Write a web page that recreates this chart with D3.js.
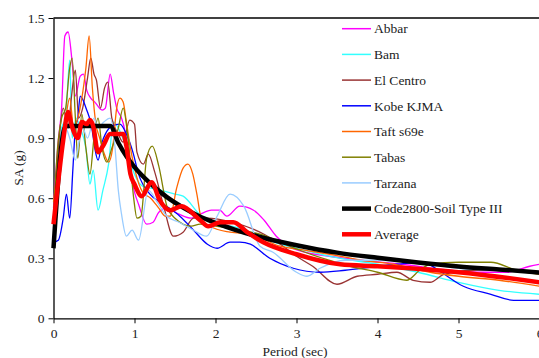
<!DOCTYPE html>
<html>
<head>
<meta charset="utf-8">
<script src="https://cdn.jsdelivr.net/npm/d3@7"></script>
<style>
  html, body { margin: 0; padding: 0; background: #fff; }
  svg { display: block; }
  svg text { font-family: 'Liberation Serif', 'Times New Roman', 'DejaVu Serif', serif; }
</style>
</head>
<body>
<div id="chart"></div>
<script>
/* ── Data (period in sec, SA in g) ─────────────────────────────────────── */
const abbar = [[0,0.55],[0.06,0.89],[0.1,1.05],[0.14,1.41],[0.18,1.43],[0.23,1.28],[0.27,1.11],[0.33,1.21],[0.37,1.22],[0.41,1.14],[0.46,1.1],[0.51,1.08],[0.6,1.04],[0.64,1.05],[0.7,1.22],[0.74,1.13],[0.78,1.05],[0.84,1.0],[0.88,0.94],[0.94,0.75],[1.0,0.63],[1.05,0.57],[1.15,0.47],[1.23,0.48],[1.3,0.53],[1.4,0.55],[1.55,0.52],[1.7,0.5],[1.81,0.52],[1.95,0.54],[2.05,0.54],[2.14,0.51],[2.3,0.56],[2.47,0.54],[2.6,0.49],[2.75,0.41],[2.9,0.36],[3.1,0.33],[3.4,0.31],[3.8,0.29],[4.3,0.27],[4.9,0.24],[5.3,0.23],[5.6,0.23],[5.88,0.26],[6,0.27]];
const bam = [[0,0.5],[0.05,0.7],[0.1,0.95],[0.15,1.0],[0.2,1.29],[0.23,0.9],[0.28,1.0],[0.33,0.95],[0.4,0.85],[0.45,0.67],[0.49,0.74],[0.55,0.54],[0.61,0.64],[0.68,0.77],[0.74,0.98],[0.8,0.95],[0.9,0.85],[1.0,0.72],[1.1,0.66],[1.2,0.65],[1.32,0.64],[1.5,0.62],[1.6,0.61],[1.8,0.52],[2.0,0.47],[2.2,0.46],[2.5,0.42],[2.8,0.37],[3.0,0.35],[3.4,0.31],[4.0,0.27],[4.5,0.23],[5.0,0.18],[5.5,0.14],[6,0.12]];
const elCentro = [[0,0.5],[0.06,0.85],[0.12,1.05],[0.18,0.95],[0.22,1.1],[0.27,1.24],[0.31,1.0],[0.36,1.05],[0.42,1.2],[0.46,1.3],[0.5,1.22],[0.53,1.19],[0.58,1.05],[0.63,1.15],[0.67,1.18],[0.72,1.0],[0.8,0.92],[0.86,0.88],[0.94,0.99],[1.0,0.97],[1.03,0.83],[1.11,0.77],[1.17,0.82],[1.25,0.73],[1.36,0.56],[1.48,0.41],[1.6,0.43],[1.73,0.5],[1.9,0.5],[2.2,0.48],[2.6,0.42],[2.8,0.37],[3.0,0.31],[3.2,0.26],[3.5,0.17],[3.75,0.21],[4.0,0.22],[4.24,0.23],[4.44,0.19],[4.65,0.18],[4.82,0.22],[5.2,0.24],[5.6,0.24],[6,0.22]];
const kobe = [[0,0.38],[0.06,0.39],[0.12,0.5],[0.16,0.62],[0.2,0.5],[0.24,0.75],[0.27,0.95],[0.3,1.0],[0.33,1.11],[0.41,1.04],[0.47,0.96],[0.51,0.85],[0.55,0.79],[0.6,0.88],[0.64,0.92],[0.72,0.96],[0.82,0.97],[0.9,0.92],[0.98,0.83],[1.05,0.72],[1.19,0.62],[1.36,0.57],[1.56,0.51],[1.73,0.44],[1.9,0.37],[2.02,0.35],[2.18,0.38],[2.3,0.38],[2.43,0.37],[2.67,0.3],[2.96,0.25],[3.29,0.23],[3.6,0.24],[4.0,0.26],[4.24,0.27],[4.57,0.28],[4.75,0.24],[5.06,0.16],[5.4,0.12],[5.68,0.09],[6,0.09]];
const taft = [[0,0.58],[0.05,0.75],[0.1,0.9],[0.15,1.0],[0.2,1.1],[0.25,0.95],[0.3,1.0],[0.35,1.1],[0.4,1.25],[0.44,1.41],[0.48,1.15],[0.52,0.98],[0.57,0.9],[0.62,0.83],[0.68,0.78],[0.73,0.85],[0.78,1.05],[0.82,1.1],[0.86,1.08],[0.9,0.98],[0.95,0.85],[1.0,0.75],[1.1,0.63],[1.2,0.6],[1.3,0.55],[1.38,0.51],[1.44,0.51],[1.52,0.65],[1.6,0.75],[1.66,0.77],[1.72,0.72],[1.77,0.62],[1.83,0.49],[1.93,0.46],[2.18,0.43],[2.43,0.42],[2.8,0.36],[3.1,0.34],[3.41,0.32],[3.8,0.29],[4.2,0.27],[4.65,0.23],[5.0,0.21],[5.5,0.19],[6,0.16]];
const tabas = [[0,0.5],[0.05,0.85],[0.1,1.0],[0.15,1.05],[0.2,1.25],[0.23,1.3],[0.27,1.0],[0.3,0.8],[0.35,1.02],[0.4,0.85],[0.45,0.72],[0.5,0.9],[0.55,1.0],[0.6,0.85],[0.66,0.78],[0.72,0.85],[0.8,0.95],[0.86,1.05],[0.92,0.9],[0.99,0.6],[1.03,0.5],[1.08,0.51],[1.15,0.8],[1.22,0.86],[1.3,0.76],[1.4,0.56],[1.5,0.5],[1.7,0.46],[1.81,0.47],[2.0,0.46],[2.3,0.44],[2.55,0.42],[2.8,0.38],[3.04,0.34],[3.4,0.29],[3.66,0.26],[4.0,0.23],[4.36,0.19],[4.52,0.24],[4.65,0.27],[5.0,0.28],[5.4,0.28],[5.72,0.24],[6,0.22]];
const tarzana = [[0,0.45],[0.06,0.64],[0.1,0.8],[0.15,0.95],[0.2,0.9],[0.27,0.79],[0.31,0.87],[0.36,0.95],[0.42,0.9],[0.5,1.0],[0.55,0.95],[0.62,0.98],[0.7,1.0],[0.76,0.85],[0.8,0.64],[0.84,0.52],[0.9,0.41],[0.97,0.44],[1.05,0.39],[1.17,0.64],[1.28,0.58],[1.4,0.51],[1.55,0.48],[1.73,0.44],[1.89,0.41],[2.02,0.51],[2.18,0.62],[2.35,0.56],[2.55,0.36],[2.71,0.33],[3.0,0.23],[3.13,0.21],[3.29,0.25],[3.6,0.29],[4.0,0.29],[4.5,0.28],[5.0,0.25],[5.5,0.24],[6,0.23]];
const code2800 = [[0,0.35],[0.15,0.96],[0.7,0.96],[0.8,0.877],[0.9,0.809],[1.0,0.755],[1.2,0.672],[1.4,0.605],[1.6,0.553],[1.8,0.51],[2.0,0.477],[2.5,0.411],[3.0,0.365],[3.5,0.328],[4.0,0.302],[4.5,0.279],[5.0,0.259],[5.5,0.244],[6,0.229]];
const average = [[0,0.47],[0.06,0.69],[0.12,0.89],[0.18,1.03],[0.22,0.97],[0.3,0.9],[0.35,0.98],[0.41,0.97],[0.45,0.99],[0.49,0.96],[0.55,0.83],[0.61,0.86],[0.7,0.92],[0.78,0.92],[0.86,0.92],[0.9,0.86],[0.95,0.72],[1.0,0.67],[1.09,0.61],[1.21,0.68],[1.31,0.59],[1.44,0.54],[1.58,0.56],[1.81,0.49],[1.91,0.46],[2.06,0.48],[2.22,0.48],[2.39,0.43],[2.59,0.38],[3.0,0.32],[3.54,0.27],[4.0,0.26],[5.0,0.23],[6,0.18]];

const seriesNames = ['Abbar', 'Bam', 'El Centro', 'Kobe KJMA', 'Taft s69e', 'Tabas', 'Tarzana', 'Code2800-Soil Type III', 'Average'];
const seriesData  = [abbar, bam, elCentro, kobe, taft, tabas, tarzana, code2800, average];
const xTicks = [0, 1, 2, 3, 4, 5, 6];
const yTicks = [0, 0.3, 0.6, 0.9, 1.2, 1.5];

/* ── Styling ───────────────────────────────────────────────────────────── */
const FONT   = "'Liberation Serif', 'Times New Roman', serif";
const FSIZE  = 13.5;
const COLORS = ['#ff00ff', '#33ffff', '#993333', '#0000ff', '#ff6600', '#808000', '#99ccff', '#000000', '#ff0000'];
const WIDTHS = [1.3, 1.3, 1.3, 1.3, 1.3, 1.3, 1.3, 4.5, 4.5];

/* ── Layout ────────────────────────────────────────────────────────────── */
const W = 539, H = 358;
const margin = { top: 18, left: 53.5 };
const plotRight = 539.5, plotBottom = 318.3;

const svg = d3.select('#chart').append('svg')
  .attr('width', W)
  .attr('height', H)
  .attr('font-family', FONT);

const x = d3.scaleLinear().domain([0, 6]).range([margin.left, plotRight]);
const y = d3.scaleLinear().domain([0, 1.5]).range([plotBottom, margin.top]);

// Top border
svg.append('line')
  .attr('x1', margin.left).attr('x2', plotRight)
  .attr('y1', y(1.5)).attr('y2', y(1.5))
  .attr('stroke', '#000').attr('stroke-width', 1.3);

// Axes
const yAxis = svg.append('g')
  .attr('transform', `translate(${margin.left},0)`)
  .call(d3.axisLeft(y).tickValues(yTicks).tickSize(5).tickSizeOuter(0)
    .tickFormat(d => d === 0 ? '0' : d3.format('.1f')(d)));
const xAxis = svg.append('g')
  .attr('transform', `translate(0,${plotBottom})`)
  .call(d3.axisBottom(x).tickValues(xTicks).tickSize(5).tickSizeOuter(0)
    .tickFormat(d3.format('d')));

[yAxis, xAxis].forEach(g => {
  g.attr('font-family', FONT).attr('font-size', FSIZE);
  g.select('.domain').attr('stroke', '#000').attr('stroke-width', 1.3);
  g.selectAll('line').attr('stroke', '#000').attr('stroke-width', 1);
  g.selectAll('text').attr('fill', '#222');
});
yAxis.selectAll('text').attr('x', -9);
xAxis.selectAll('text').attr('y', 10);

// Axis titles
svg.append('text')
  .attr('x', 295).attr('y', 356)
  .attr('text-anchor', 'middle')
  .attr('font-size', FSIZE).attr('fill', '#222')
  .text('Period (sec)');
svg.append('text')
  .attr('transform', 'translate(23,168) rotate(-90)')
  .attr('text-anchor', 'middle')
  .attr('font-size', FSIZE).attr('fill', '#222')
  .text('SA (g)');

// Lines
const line = d3.line()
  .x(d => x(d[0]))
  .y(d => y(d[1]))
  .curve(d3.curveMonotoneX);

svg.append('g')
  .selectAll('path')
  .data(seriesData)
  .join('path')
    .attr('d', line)
    .attr('fill', 'none')
    .attr('stroke', (d, i) => COLORS[i])
    .attr('stroke-width', (d, i) => WIDTHS[i])
    .attr('stroke-linejoin', 'round');

// Legend
const legend = svg.append('g');
seriesNames.forEach((name, i) => {
  const ly = 28.7 + i * 25.7;
  legend.append('line')
    .attr('x1', 342).attr('x2', 371)
    .attr('y1', ly).attr('y2', ly)
    .attr('stroke', COLORS[i])
    .attr('stroke-width', i >= 7 ? 4.5 : 1.5);
  legend.append('text')
    .attr('x', 374).attr('y', ly)
    .attr('dy', '0.35em')
    .attr('font-size', FSIZE).attr('fill', '#222')
    .text(name);
});
</script>
</body>
</html>
